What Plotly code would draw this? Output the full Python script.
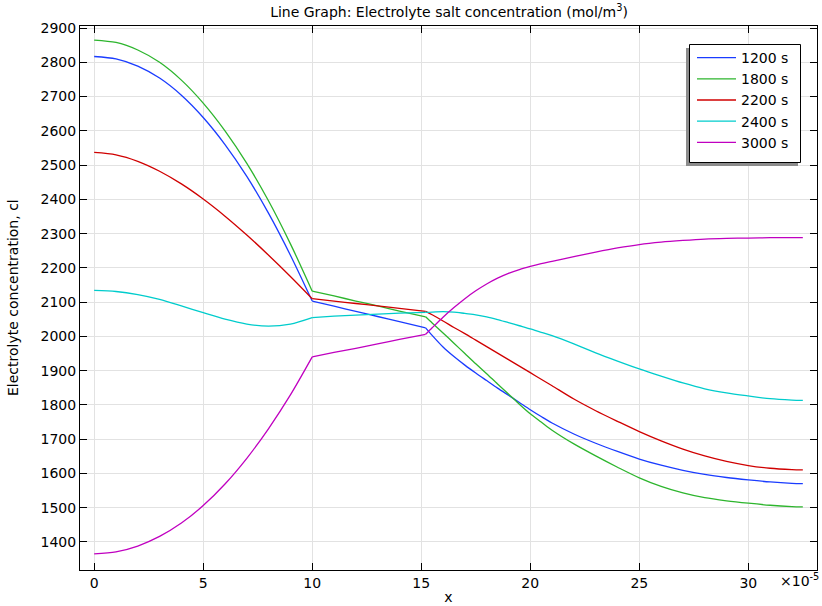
import plotly.graph_objects as go

# x positions (units of 1e-5); kinks at 10 and 15.2
x_vals = [0, 1, 2, 3, 4, 5, 6, 7, 8, 9, 10,
          11, 12, 13, 14, 15.2,
          15.5, 16, 16.5, 17, 17.5, 18, 18.5, 19, 19.5, 20, 20.5, 21,
          22, 23, 24, 25, 26, 27, 28, 29, 30, 31, 32, 32.5]

c_1200 = [2817, 2810, 2789, 2754, 2704, 2639, 2560, 2467, 2359, 2237, 2103,
          2088, 2073, 2058, 2043, 2025,
          2003, 1969, 1941, 1916, 1893, 1871, 1849, 1828, 1807, 1786, 1766, 1747,
          1715, 1688, 1664, 1642, 1624, 1609, 1597, 1588, 1581, 1575, 1571, 1570]

c_1800 = [2865, 2858, 2836, 2800, 2748, 2681, 2600, 2505, 2395, 2270, 2132,
          2118, 2103, 2089, 2074, 2057,
          2039, 2010, 1980, 1950, 1920, 1891, 1861, 1832, 1802, 1774, 1750, 1726,
          1686, 1651, 1618, 1587, 1562, 1543, 1529, 1520, 1513, 1507, 1503, 1502]

c_2200 = [2537, 2530, 2511, 2482, 2445, 2401, 2351, 2296, 2237, 2175, 2110,
          2103, 2096, 2089, 2082, 2073,
          2063, 2045, 2026, 2008, 1989, 1970, 1951, 1932, 1913, 1894, 1875, 1856,
          1817, 1783, 1752, 1722, 1695, 1671, 1651, 1635, 1623, 1615, 1611, 1610]

c_2400 = [2134, 2131, 2122, 2108, 2089, 2069, 2050, 2036, 2030, 2036, 2055,
          2059, 2062, 2065, 2068, 2070,
          2071, 2072, 2071, 2067, 2063, 2057, 2049, 2040, 2031, 2022, 2012, 2002,
          1978, 1952, 1928, 1905, 1884, 1864, 1847, 1835, 1826, 1818, 1814, 1813]

c_3000 = [1365, 1371, 1388, 1416, 1455, 1506, 1569, 1644, 1731, 1829, 1940,
          1953, 1965, 1978, 1991, 2006,
          2025, 2056, 2084, 2110, 2133, 2153, 2170, 2184, 2195, 2204, 2212, 2219,
          2233, 2246, 2258, 2268, 2275, 2280, 2284, 2286, 2287, 2288, 2288, 2288]

series_names = ["1200 s", "1800 s", "2200 s", "2400 s", "3000 s"]
series_vals = [c_1200, c_1800, c_2200, c_2400, c_3000]
series_colors = ["#1a3cff", "#2db52d", "#d00000", "#00cccc", "#c000c0"]

# domain boundaries where the curves have corners
kinks = [10, 15.2]

x_ticks = [0, 5, 10, 15, 20, 25, 30]
y_ticks = list(range(1400, 3000, 100))

FONT = "DejaVu Sans"

bounds = [0] + [x_vals.index(k) for k in kinks] + [len(x_vals) - 1]

fig = go.Figure()
for name, vals, col in zip(series_names, series_vals, series_colors):
    for j in range(len(bounds) - 1):
        a, b = bounds[j], bounds[j + 1]
        fig.add_trace(go.Scatter(
            x=x_vals[a:b + 1], y=vals[a:b + 1], mode="lines", name=name,
            legendgroup=name, showlegend=(j == 0),
            line=dict(color=col, width=1.3, shape="spline", smoothing=0.8)))

W, H = 822, 606
L, R, T, B = 80, 5, 26, 36
pw, ph = W - L - R, H - T - B

def px_x(p):
    return (p - L) / pw

def px_y(p):
    return 1 - (p - T) / ph

fig.update_layout(
    width=W, height=H,
    margin=dict(l=L, r=R, t=T, b=B, autoexpand=False),
    paper_bgcolor="white", plot_bgcolor="white",
    font=dict(family=FONT, size=14, color="black"),
    title=dict(text="Line Graph: Electrolyte salt concentration (mol/m<sup>3</sup>)",
               x=449 / W, xanchor="center", y=1 - 12 / H, yanchor="middle",
               font=dict(family=FONT, size=14, color="black")),
    showlegend=True,
    legend=dict(x=px_x(692), y=px_y(42), xanchor="left", yanchor="top",
                bgcolor="rgba(0,0,0,0)", borderwidth=0, tracegroupgap=0,
                font=dict(family=FONT, size=14, color="black"),
                itemwidth=39),
    xaxis=dict(range=[-0.65, 33.15], tickvals=x_ticks, ticktext=[str(v) for v in x_ticks],
               automargin=False,
               showgrid=True, gridcolor="#e2e2e2", gridwidth=1, zeroline=False,
               showline=True, linecolor="black", linewidth=1, mirror="allticks",
               ticks="inside", ticklen=7, tickcolor="black",
               title=dict(text="x", standoff=2, font=dict(size=14))),
    yaxis=dict(range=[1318, 2906], tickvals=y_ticks,
               automargin=False,
               showgrid=True, gridcolor="#e2e2e2", gridwidth=1, zeroline=False,
               showline=True, linecolor="black", linewidth=1, mirror="allticks",
               ticks="inside", ticklen=7, tickcolor="black"),
    shapes=[
        dict(type="rect", xref="paper", yref="paper",
             x0=px_x(686), x1=px_x(798), y0=px_y(166), y1=px_y(48),
             fillcolor="#8c8c8c", line=dict(width=0), layer="above"),
        dict(type="rect", xref="paper", yref="paper",
             x0=px_x(689.5), x1=px_x(800.5), y0=px_y(162.5), y1=px_y(44.5),
             fillcolor="white", line=dict(color="black", width=1), layer="above"),
    ],
    annotations=[
        dict(text="×10<sup>-5</sup>", xref="paper", yref="paper",
             x=px_x(821), y=px_y(580), xanchor="right", yanchor="middle",
             showarrow=False, font=dict(family=FONT, size=14, color="black")),
        dict(text="Electrolyte concentration, cl", xref="paper", yref="paper",
             x=px_x(13), y=0.5, xanchor="center", yanchor="middle", textangle=-90,
             showarrow=False, font=dict(family=FONT, size=14, color="black")),
    ],
)

fig.write_html("out.html", post_script="document.body.style.margin='0';",
               config={"displayModeBar": False})
